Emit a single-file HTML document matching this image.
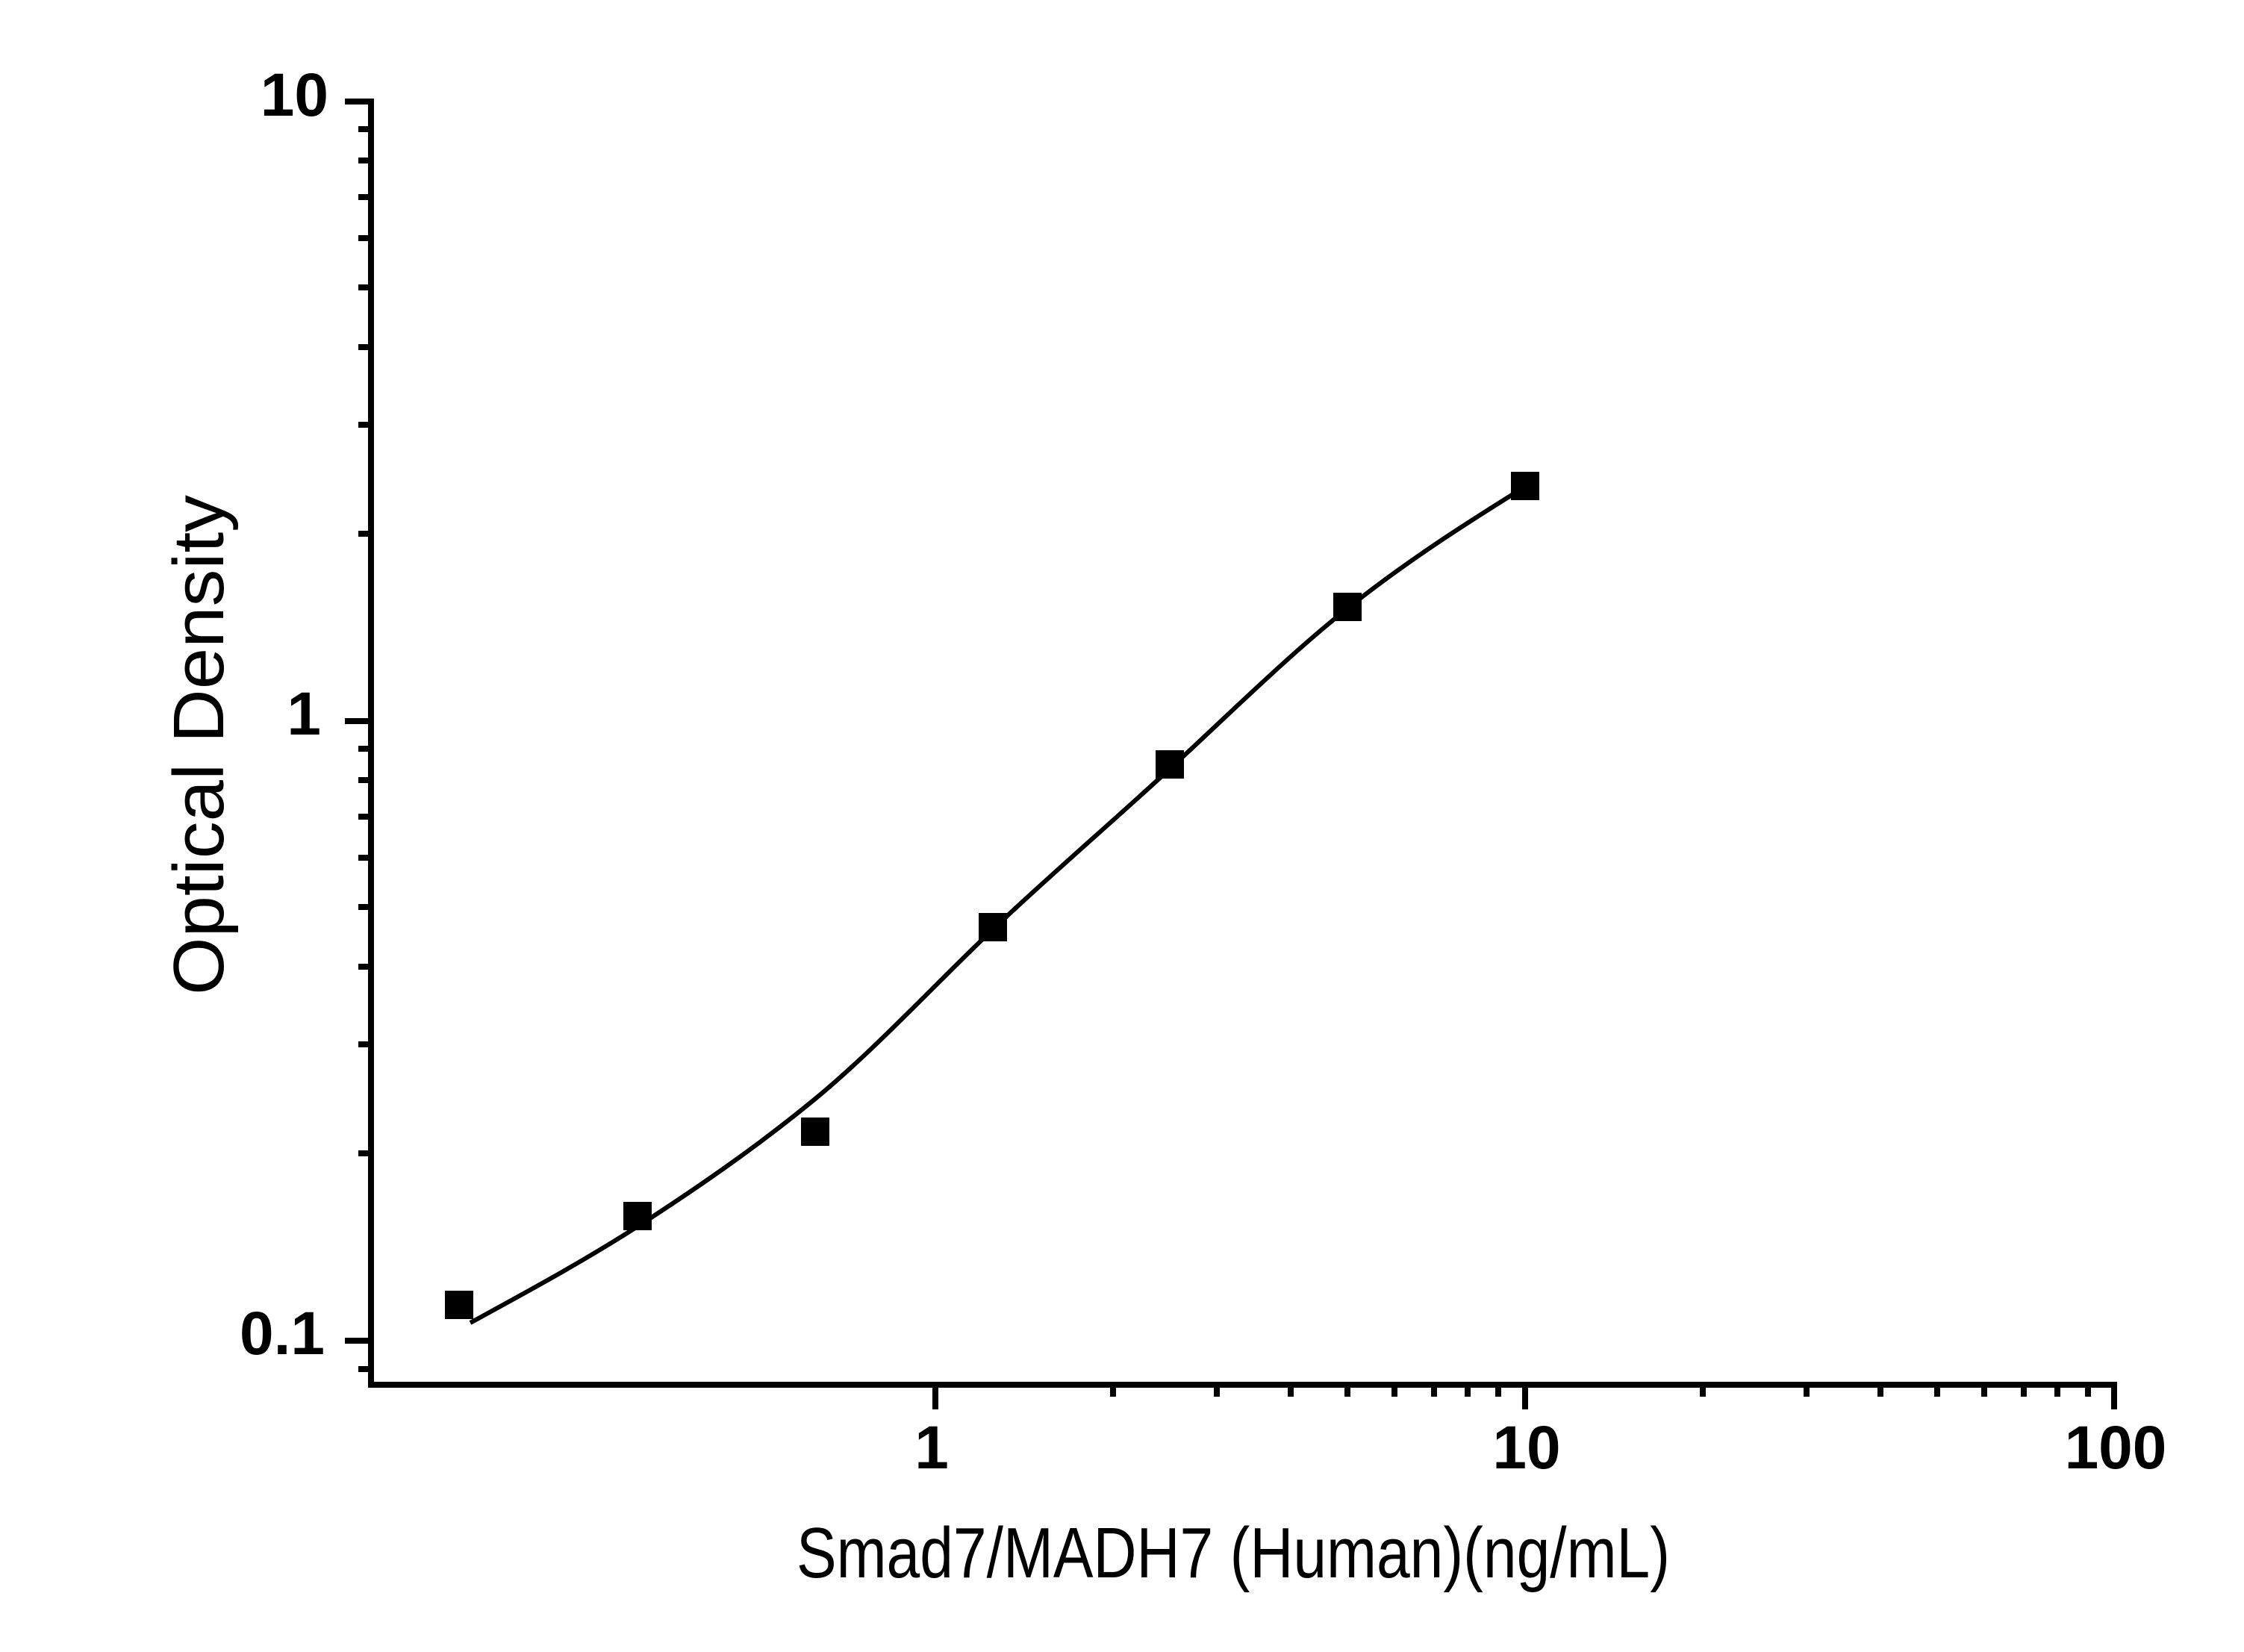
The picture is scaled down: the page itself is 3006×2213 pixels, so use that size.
<!DOCTYPE html>
<html><head><meta charset="utf-8"><style>html,body{margin:0;padding:0;background:#fff}svg{display:block}</style></head>
<body>
<svg width="3006" height="2213" viewBox="0 0 3006 2213" xmlns="http://www.w3.org/2000/svg">
<rect width="3006" height="2213" fill="#fff"/>
<g stroke="#000" stroke-width="8" fill="none">
<line x1="497" y1="132" x2="497" y2="1859"/>
<line x1="493" y1="1855" x2="2836" y2="1855"/>
<line x1="462" y1="136" x2="497" y2="136"/>
<line x1="462" y1="966" x2="497" y2="966"/>
<line x1="462" y1="1796" x2="497" y2="1796"/>
<path d="M480 173H497M480 215H497M480 264H497M480 319H497M480 385H497M480 465H497M480 569H497M480 715H497
M480 1003H497M480 1045H497M480 1094H497M480 1149H497M480 1215H497M480 1295H497M480 1399H497M480 1545H497M480 1834H497"/>
<line x1="1253" y1="1855" x2="1253" y2="1888"/>
<line x1="2043" y1="1855" x2="2043" y2="1888"/>
<line x1="2832" y1="1855" x2="2832" y2="1888"/>
<path d="M1491 1855V1871M1630 1855V1871M1729 1855V1871M1805 1855V1871M1868 1855V1871M1921 1855V1871M1966 1855V1871M2007 1855V1871
M2281 1855V1871M2420 1855V1871M2519 1855V1871M2595 1855V1871M2658 1855V1871M2711 1855V1871M2756 1855V1871M2797 1855V1871"/>
</g>
<path d="M630 1772 C705 1731 779 1691 854 1643 C933 1592 1013 1537 1092 1472 C1171 1407 1251 1320 1330 1245 C1409 1170 1488 1103 1567 1030 C1646 957 1726 878 1805 815 C1884 752 1964 701 2043 652" stroke="#000" stroke-width="6" fill="none"/>
<g fill="#000">
<rect x="596" y="1729" width="38" height="38"/>
<rect x="835" y="1610" width="38" height="38"/>
<rect x="1073" y="1497" width="38" height="38"/>
<rect x="1311" y="1223" width="38" height="38"/>
<rect x="1548" y="1005" width="38" height="38"/>
<rect x="1786" y="794" width="38" height="38"/>
<rect x="2024" y="632" width="38" height="38"/>
</g>
<g font-family="'Liberation Sans', Arial, sans-serif" font-weight="bold" font-size="82" fill="#000">
<text x="440" y="155" text-anchor="end">10</text>
<text x="430" y="984" text-anchor="end">1</text>
<text x="435" y="1814" text-anchor="end">0.1</text>
<text x="1248" y="1967" text-anchor="middle">1</text>
<text x="2045" y="1967" text-anchor="middle">10</text>
<text x="2834" y="1967" text-anchor="middle">100</text>
</g>
<g font-family="'Liberation Sans', 'DejaVu Sans', sans-serif" font-size="96" fill="#000">
<text x="1067" y="2113" textLength="1170" lengthAdjust="spacingAndGlyphs">Smad7/MADH7 (Human)(ng/mL)</text>
<text transform="translate(299,1333) rotate(-90)" x="0" y="0" textLength="670" lengthAdjust="spacingAndGlyphs">Optical Density</text>
</g>
</svg>
</body></html>
